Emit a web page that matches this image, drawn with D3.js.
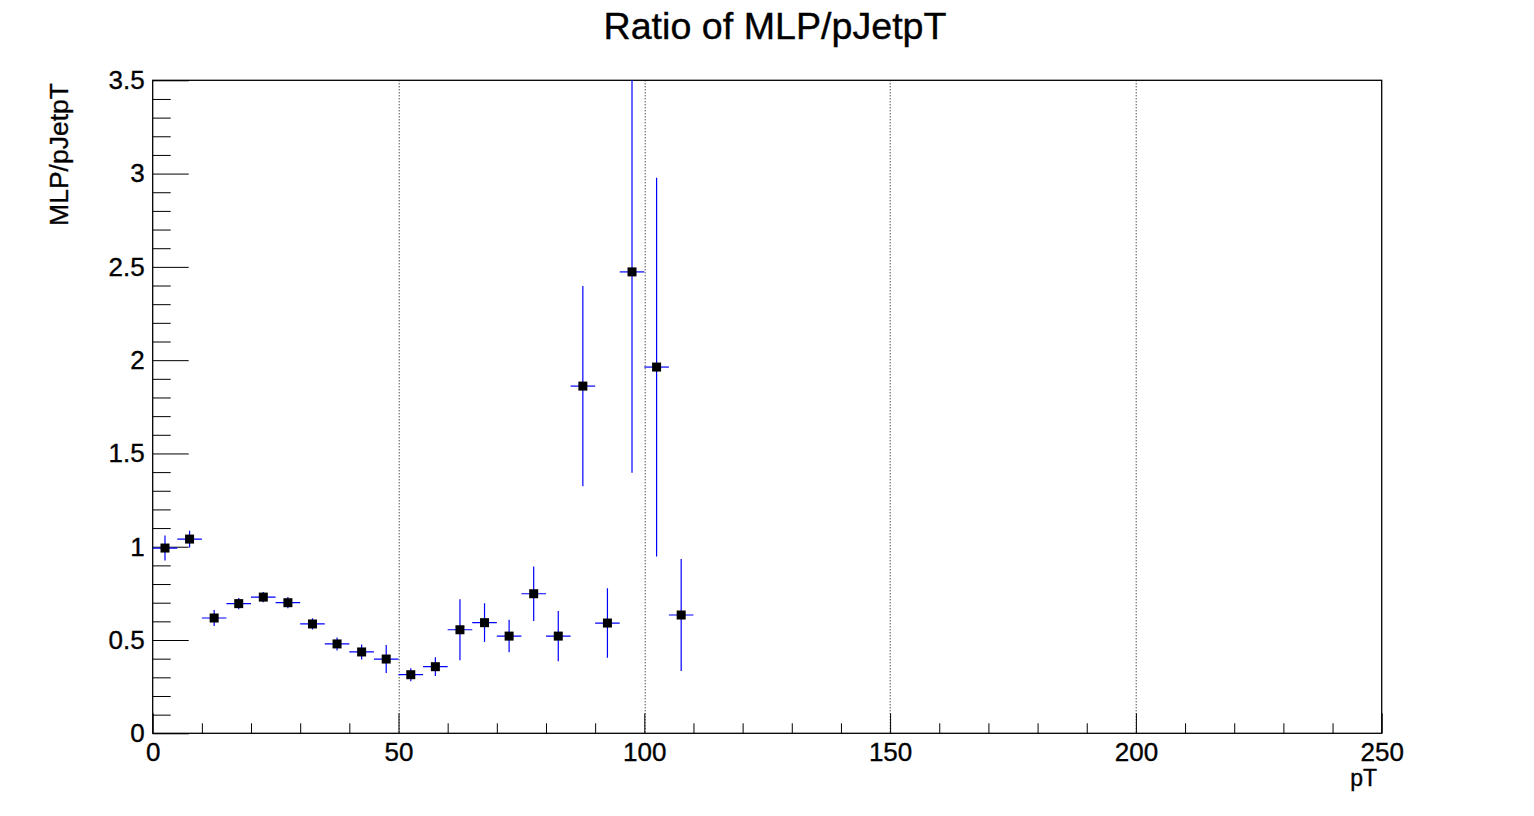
<!DOCTYPE html>
<html>
<head>
<meta charset="utf-8">
<script src="https://cdn.jsdelivr.net/npm/d3@7"></script>
<style>
  body { margin: 0; background: #fff; }
  svg text { font-family: "Liberation Sans", Arial, Helvetica, sans-serif; fill: #000; stroke: #000; stroke-width: 0.35px; }
</style>
</head>
<body>
<div id="chart"></div>
<script>
// bin centers (pT), ratio values and their errors
const binCenters = [2.5, 7.5, 12.5, 17.5, 22.5, 27.5, 32.5, 37.5, 42.5, 47.5,
  52.5, 57.5, 62.5, 67.5, 72.5, 77.5, 82.5, 87.5, 92.5, 97.5, 102.5, 107.5];
const binHalfWidth = 2.5;
const ratioValues = [0.993, 1.041, 0.618, 0.695, 0.730, 0.700, 0.586, 0.479, 0.436, 0.398,
  0.314, 0.357, 0.555, 0.593, 0.521, 0.748, 0.521, 1.861, 0.591, 2.473, 1.963, 0.634];
const ratioErrors = [0.067, 0.045, 0.043, 0.030, 0.028, 0.030, 0.030, 0.035, 0.040, 0.075,
  0.035, 0.050, 0.163, 0.104, 0.087, 0.146, 0.135, 0.537, 0.186, 1.076, 1.015, 0.300];

const xMajorTicks = [0, 50, 100, 150, 200, 250];
const xMinorTicks = [10, 20, 30, 40, 60, 70, 80, 90, 110, 120, 130, 140, 160, 170, 180, 190, 210, 220, 230, 240];
const yMajorTicks = [0, 0.5, 1, 1.5, 2, 2.5, 3, 3.5];
const yMinorTicks = [0.1, 0.2, 0.3, 0.4, 0.6, 0.7, 0.8, 0.9, 1.1, 1.2, 1.3, 1.4, 1.6, 1.7, 1.8, 1.9,
  2.1, 2.2, 2.3, 2.4, 2.6, 2.7, 2.8, 2.9, 3.1, 3.2, 3.3, 3.4];
const xGridLines = [50, 100, 150, 200];

const width = 1534, height = 816;
const margin = { top: 80.3, right: 152.3, bottom: 82.7, left: 152.7 };
const innerW = width - margin.left - margin.right;
const innerH = height - margin.top - margin.bottom;

const svg = d3.select("#chart").append("svg")
  .attr("width", width)
  .attr("height", height);

svg.append("text")
  .attr("x", 775)
  .attr("y", 38.5)
  .attr("text-anchor", "middle")
  .attr("textLength", 343)
  .attr("lengthAdjust", "spacingAndGlyphs")
  .style("font-size", "36px")
  .text("Ratio of MLP/pJetpT");

const g = svg.append("g").attr("transform", `translate(${margin.left},${margin.top})`);

const x = d3.scaleLinear().domain([0, 250]).range([0, innerW]);
const y = d3.scaleLinear().domain([0, 3.5]).range([innerH, 0]);

// dotted vertical grid
g.selectAll(".grid")
  .data(xGridLines)
  .enter()
  .append("line")
  .attr("class", "grid")
  .attr("x1", d => Math.round(x(d)) + 0.5)
  .attr("x2", d => Math.round(x(d)) + 0.5)
  .attr("y1", 0)
  .attr("y2", innerH)
  .attr("stroke", "#000")
  .attr("stroke-width", 1)
  .attr("stroke-dasharray", "1,2");

// axes
const xMajor = g.append("g")
  .attr("transform", `translate(0,${innerH})`)
  .call(d3.axisBottom(x).tickValues(xMajorTicks).tickSize(-20).tickPadding(9).tickFormat(d3.format("d")));
const xMinor = g.append("g")
  .attr("transform", `translate(0,${innerH})`)
  .call(d3.axisBottom(x).tickValues(xMinorTicks).tickSize(-10).tickFormat(""));
const yMajor = g.append("g")
  .call(d3.axisLeft(y).tickValues(yMajorTicks).tickSize(-36).tickPadding(8).tickFormat(d => String(d)));
const yMinor = g.append("g")
  .call(d3.axisLeft(y).tickValues(yMinorTicks).tickSize(-18).tickFormat(""));

[xMajor, xMinor, yMajor, yMinor].forEach(a => {
  a.select(".domain").remove();
  a.selectAll("line").attr("stroke", "#000").attr("stroke-width", 1);
  a.selectAll("text").style("font-size", "26px").attr("fill", "#000");
});

// frame
g.append("rect")
  .attr("x", 0)
  .attr("y", 0)
  .attr("width", innerW)
  .attr("height", innerH)
  .attr("fill", "none")
  .attr("stroke", "#000")
  .attr("stroke-width", 1.3);

// axis titles
svg.append("text")
  .attr("x", 1377)
  .attr("y", 786)
  .attr("text-anchor", "end")
  .style("font-size", "23px")
  .text("pT");

svg.append("text")
  .attr("transform", `translate(68,83) rotate(-90)`)
  .attr("text-anchor", "end")
  .style("font-size", "26.5px")
  .text("MLP/pJetpT");

// points with error bars
const points = binCenters.map((c, i) => ({ x: c, v: ratioValues[i], e: ratioErrors[i] }));
svg.append("clipPath").attr("id", "plotclip")
  .append("rect").attr("width", innerW).attr("height", innerH);
const pg = g.append("g").attr("clip-path", "url(#plotclip)");

pg.selectAll(".ebar-v")
  .data(points)
  .enter()
  .append("line")
  .attr("x1", d => x(d.x))
  .attr("x2", d => x(d.x))
  .attr("y1", d => y(d.v - d.e))
  .attr("y2", d => y(d.v + d.e))
  .attr("stroke", "#0000ff")
  .attr("stroke-width", 1.2);

pg.selectAll(".ebar-h")
  .data(points)
  .enter()
  .append("line")
  .attr("x1", d => x(d.x - binHalfWidth))
  .attr("x2", d => x(d.x + binHalfWidth))
  .attr("y1", d => y(d.v))
  .attr("y2", d => y(d.v))
  .attr("stroke", "#0000ff")
  .attr("stroke-width", 1.2);

pg.selectAll(".marker")
  .data(points)
  .enter()
  .append("rect")
  .attr("x", d => x(d.x) - 4.5)
  .attr("y", d => y(d.v) - 4.5)
  .attr("width", 9)
  .attr("height", 9)
  .attr("fill", "#000");
</script>
</body>
</html>
